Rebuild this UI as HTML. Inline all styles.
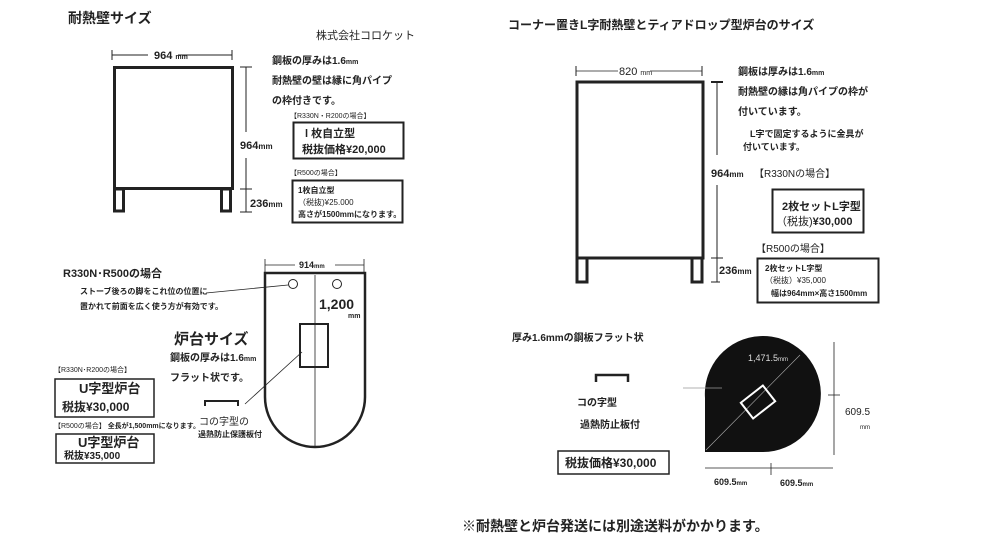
<!DOCTYPE html>
<html><head><meta charset="utf-8"><style>
html,body{margin:0;padding:0;background:#fff;}
svg{display:block;font-family:"Liberation Sans","Noto Sans CJK JP",sans-serif;}
.b{font-weight:bold;}
</style></head><body>
<svg width="985" height="545" viewBox="0 0 985 545" xmlns="http://www.w3.org/2000/svg">
<g fill="#222">
<text x="68" y="23" font-size="14" class="b">耐熱壁サイズ</text>
<text x="316" y="39" font-size="11">株式会社コロケット</text>
<g stroke="#222" fill="none">
<rect x="114.5" y="67.5" width="118" height="121" stroke-width="3"/>
<rect x="114.5" y="189" width="9" height="22" stroke-width="3"/>
<rect x="221.5" y="189" width="9" height="22" stroke-width="3"/>
<line x1="112" y1="55" x2="148" y2="55" stroke-width="1"/><line x1="178" y1="55" x2="232" y2="55" stroke-width="1"/>
<line x1="112" y1="50" x2="112" y2="60"/><line x1="232" y1="50" x2="232" y2="60"/>
<line x1="246" y1="67" x2="246" y2="132"/><line x1="246" y1="158" x2="246" y2="212"/>
<line x1="240" y1="67" x2="252" y2="67"/><line x1="240" y1="189" x2="252" y2="189"/><line x1="240" y1="212" x2="252" y2="212"/>
<rect x="293.5" y="122.5" width="110" height="36" stroke-width="2"/>
<rect x="292.5" y="180.5" width="110" height="42" stroke-width="2"/>
</g>
<text x="154" y="59" font-size="11" class="b">964 <tspan font-size="7">mm</tspan></text>
<text x="240" y="149" font-size="11" class="b">964<tspan font-size="8">mm</tspan></text>
<text x="250" y="207" font-size="11" class="b">236<tspan font-size="8">mm</tspan></text>
<text x="272" y="64" font-size="10" class="b">鋼板の厚みは1.6<tspan font-size="7">mm</tspan></text>
<text x="272" y="84" font-size="10" class="b">耐熱壁の壁は縁に角パイプ</text>
<text x="272" y="104" font-size="10" class="b">の枠付きです。</text>
<text x="290" y="118" font-size="7">【R330N・R200の場合】</text>
<text x="305" y="137" font-size="11" class="b">l 枚自立型</text>
<text x="302" y="153" font-size="11" class="b">税抜価格¥20,000</text>
<text x="290" y="175" font-size="7">【R500の場合】</text>
<text x="298" y="193" font-size="8" class="b">1枚自立型</text>
<text x="298" y="205" font-size="8">（税抜)¥25.000</text>
<text x="298" y="217" font-size="8" class="b">高さが1500mmになります。</text>

<g stroke="#222" fill="none">
<path d="M265,273 L365,273 L365,397 A50,50 0 0 1 265,397 Z" stroke-width="2.5"/>
<line x1="315" y1="275" x2="315" y2="446" stroke-width="0.8"/>
<circle cx="293" cy="284" r="4.5" stroke-width="1"/><circle cx="337" cy="284" r="4.5" stroke-width="1"/>
<rect x="300" y="324" width="28" height="43" stroke-width="2"/>
<line x1="265" y1="265" x2="295" y2="265" stroke-width="0.8"/><line x1="335" y1="265" x2="364" y2="265" stroke-width="0.8"/>
<line x1="265" y1="259" x2="265" y2="272" stroke-width="0.8"/><line x1="364" y1="259" x2="364" y2="272" stroke-width="0.8"/>
<line x1="206" y1="293" x2="288" y2="285" stroke-width="0.8"/>
<line x1="245" y1="404" x2="302" y2="352" stroke-width="0.8"/>
<path d="M205,406 V401 H238 V406" stroke-width="2"/>
<rect x="55" y="379" width="99" height="38" stroke-width="1.5"/>
<rect x="56" y="434" width="98" height="29" stroke-width="1.5"/>
</g>
<text x="299" y="268" font-size="9" class="b">914<tspan font-size="6">mm</tspan></text>
<text x="319" y="309" font-size="14" class="b">1,200</text>
<text x="348" y="318" font-size="7" class="b">mm</text>
<text x="63" y="277" font-size="11" class="b">R330N･R500の場合</text>
<text x="80" y="294" font-size="8" class="b">ストーブ後ろの脚をこれ位の位置に</text>
<text x="80" y="309" font-size="8" class="b">置かれて前面を広く使う方が有効です。</text>
<text x="174" y="344" font-size="15" class="b">炉台サイズ</text>
<text x="170" y="361" font-size="10" class="b">鋼板の厚みは1.6<tspan font-size="7">mm</tspan></text>
<text x="170" y="381" font-size="10" class="b">フラット状です。</text>
<text x="199" y="425" font-size="10">コの字型の</text>
<text x="198" y="437" font-size="8" class="b">過熱防止保護板付</text>
<text x="54" y="372" font-size="7">【R330N･R200の場合】</text>
<text x="79" y="393" font-size="13" class="b">U字型炉台</text>
<text x="62" y="411" font-size="12" class="b">税抜¥30,000</text>
<text x="54" y="428" font-size="7">【R500の場合】 <tspan class="b">全長が1,500mmになります。</tspan></text>
<text x="78" y="447" font-size="13" class="b">U字型炉台</text>
<text x="64" y="459" font-size="10" class="b">税抜¥35,000</text>

<text x="508" y="29" font-size="12" class="b">コーナー置きL字耐熱壁とティアドロップ型炉台のサイズ</text>
<g stroke="#222" fill="none">
<rect x="577" y="82" width="126" height="176" stroke-width="3"/>
<rect x="577" y="258" width="10" height="24" stroke-width="3"/>
<rect x="692" y="258" width="10" height="24" stroke-width="3"/>
<line x1="576" y1="71" x2="618" y2="71" stroke-width="0.8"/><line x1="650" y1="71" x2="702" y2="71" stroke-width="0.8"/>
<line x1="576" y1="66" x2="576" y2="76"/><line x1="702" y1="66" x2="702" y2="76"/>
<line x1="717" y1="82" x2="717" y2="155"/><line x1="717" y1="185" x2="717" y2="282"/>
<line x1="711" y1="82" x2="723" y2="82" stroke-width="2"/><line x1="711" y1="258" x2="723" y2="258"/><line x1="711" y1="282" x2="720" y2="282"/>
<rect x="772.5" y="189.5" width="91" height="43" stroke-width="2"/>
<rect x="757.5" y="258.5" width="121" height="44" stroke-width="2"/>
<path d="M596,382 V375 H628 V382" stroke-width="2.5"/>
<rect x="558" y="451" width="111" height="23" stroke-width="1.5"/>
</g>
<text x="619" y="75" font-size="11">820 <tspan font-size="7">mm</tspan></text>
<text x="711" y="177" font-size="11" class="b">964<tspan font-size="8">mm</tspan></text>
<text x="719" y="274" font-size="11" class="b">236<tspan font-size="8">mm</tspan></text>
<text x="738" y="75" font-size="10" class="b">鋼板は厚みは1.6<tspan font-size="7">mm</tspan></text>
<text x="738" y="95" font-size="10" class="b">耐熱壁の縁は角パイプの枠が</text>
<text x="738" y="115" font-size="10" class="b">付いています。</text>
<text x="750" y="137" font-size="9" class="b">L字で固定するように金具が</text>
<text x="743" y="150" font-size="9" class="b">付いています。</text>
<text x="754" y="177" font-size="10">【R330Nの場合】</text>
<text x="782" y="210" font-size="11" class="b">2枚セットL字型</text>
<text x="776" y="225" font-size="11">（税抜)<tspan class="b">¥30,000</tspan></text>
<text x="756" y="252" font-size="10">【R500の場合】</text>
<text x="765" y="271" font-size="8" class="b">2枚セットL字型</text>
<text x="765" y="283" font-size="8">（税抜）¥35,000</text>
<text x="771" y="296" font-size="8" class="b">幅は964mm×高さ1500mm</text>
<text x="512" y="341" font-size="10" class="b">厚み1.6mmの鋼板フラット状</text>
<text x="577" y="406" font-size="10" class="b">コの字型</text>
<text x="580" y="428" font-size="10" class="b">過熱防止板付</text>
<text x="565" y="467" font-size="12" class="b">税抜価格¥30,000</text>

<path d="M705,452 L705,398 A58,58 0 1 1 763,452 Z" fill="#111"/>
<line x1="706" y1="450" x2="800" y2="355" stroke="#aaa" stroke-width="0.6"/>
<line x1="683" y1="388" x2="722" y2="388" stroke="#999" stroke-width="0.8"/>
<rect x="744" y="392" width="28" height="20" fill="none" stroke="#fff" stroke-width="2" transform="rotate(-38 758 402)"/>
<text x="748" y="361" font-size="9" fill="#ddd">1,471.5<tspan font-size="6">mm</tspan></text>
<g stroke="#222" stroke-width="0.8">
<line x1="834" y1="342" x2="834" y2="455"/><line x1="828" y1="395" x2="840" y2="395"/>
<line x1="705" y1="468" x2="833" y2="468"/><line x1="771" y1="463" x2="771" y2="475"/>
</g>
<text x="845" y="415" font-size="10">609.5</text>
<text x="860" y="429" font-size="6">mm</text>
<text x="714" y="485" font-size="9" class="b">609.5<tspan font-size="6">mm</tspan></text>
<text x="780" y="486" font-size="9" class="b">609.5<tspan font-size="6">mm</tspan></text>
<text x="462" y="531" font-size="14" class="b">※耐熱壁と炉台発送には別途送料がかかります。</text>
</g>
</svg>
</body></html>
